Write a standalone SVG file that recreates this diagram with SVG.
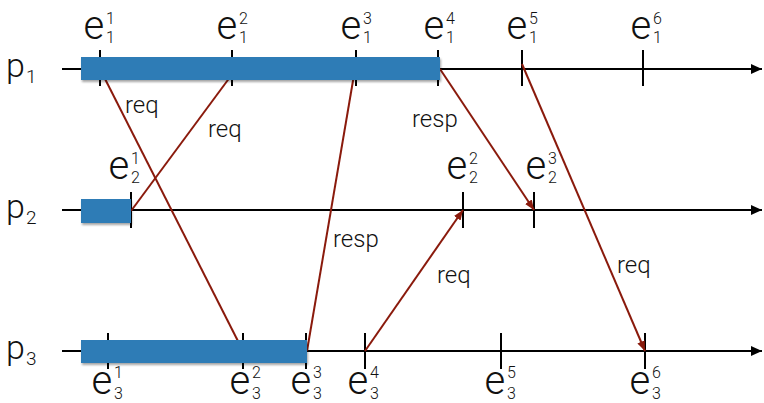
<svg xmlns="http://www.w3.org/2000/svg" width="764" height="403" viewBox="0 0 764 403">
<style>
.pl{stroke:#000;stroke-width:2;fill:none}
.tk{stroke:#000;stroke-width:2}
.msg{stroke:#8a1a0c;stroke-width:2;fill:none}
.bar{fill:#2e7cb6;filter:url(#sh)}
text{font-family:Roboto,"Liberation Sans",Arial,sans-serif;font-weight:300;fill:#111}
.e{font-size:40px}
.s{font-size:16px}
.p{font-size:34px}
.ps{font-size:19px}
.lb{font-size:24px}
</style>
<defs>
<marker id="ah" markerUnits="userSpaceOnUse" markerWidth="14" markerHeight="12" refX="11" refY="5" orient="auto">
<path d="M0,0 L11,5 L0,10 Z" fill="#000"/>
</marker>
<marker id="rh" markerUnits="userSpaceOnUse" markerWidth="12" markerHeight="10" refX="10" refY="4" orient="auto">
<path d="M0,0 L10,4 L0,8 Z" fill="#8a1a0c"/>
</marker>
<filter id="sh" x="-5%" y="-30%" width="110%" height="170%">
<feDropShadow dx="1" dy="2" stdDeviation="1.2" flood-color="#000" flood-opacity="0.35"/>
</filter>
</defs>

<g id="p1">
<line class="pl" x1="62" y1="69" x2="762" y2="69" marker-end="url(#ah)"/>
<g class="tk">
<line x1="100" y1="50" x2="100" y2="86"/>
<line x1="232" y1="50" x2="232" y2="86"/>
<line x1="356" y1="50" x2="356" y2="86"/>
<line x1="438" y1="50" x2="438" y2="86"/>
<line x1="522" y1="50" x2="522" y2="86"/>
<line x1="643" y1="50" x2="643" y2="86"/>
</g>
<text class="p" x="6" y="77">p</text><text class="ps" x="26" y="83">1</text>
</g>

<g id="p2">
<line class="pl" x1="62" y1="210" x2="762" y2="210" marker-end="url(#ah)"/>
<g class="tk">
<line x1="131" y1="192" x2="131" y2="228"/>
<line x1="463" y1="192" x2="463" y2="228"/>
<line x1="534" y1="192" x2="534" y2="228"/>
</g>
<text class="p" x="6" y="218">p</text><text class="ps" x="26" y="224">2</text>
</g>

<g id="p3">
<line class="pl" x1="62" y1="351" x2="762" y2="351" marker-end="url(#ah)"/>
<g class="tk">
<line x1="108" y1="333" x2="108" y2="369"/>
<line x1="243" y1="333" x2="243" y2="369"/>
<line x1="306" y1="333" x2="306" y2="369"/>
<line x1="365" y1="333" x2="365" y2="369"/>
<line x1="501" y1="333" x2="501" y2="369"/>
<line x1="645" y1="333" x2="645" y2="369"/>
</g>
<text class="p" x="6" y="359">p</text><text class="ps" x="26" y="365">3</text>
</g>

<g id="connectors">
<line class="msg" x1="100" y1="69" x2="243" y2="351"/>
<line class="msg" x1="131" y1="211" x2="236" y2="69"/>
<line class="msg" x1="307" y1="351" x2="355" y2="69"/>
<line class="msg" x1="440" y1="69" x2="534" y2="210" marker-end="url(#rh)"/>
<line class="msg" x1="365" y1="351" x2="463" y2="210" marker-end="url(#rh)"/>
<line class="msg" x1="522" y1="64" x2="645" y2="351" marker-end="url(#rh)"/>
<text class="lb" x="125" y="113">req</text>
<text class="lb" x="208" y="137">req</text>
<text class="lb" x="333" y="247">resp</text>
<text class="lb" x="412" y="127">resp</text>
<text class="lb" x="437" y="283">req</text>
<text class="lb" x="617" y="273">req</text>
</g>

<g id="busy1"><rect class="bar" x="81" y="57" width="359" height="23"/></g>
<g id="busy2"><rect class="bar" x="81" y="199" width="50" height="24"/></g>
<g id="busy3"><rect class="bar" x="81" y="340" width="226" height="23"/></g>

<g id="events-p1">
<text class="e" x="83.5" y="38.5">e</text><text class="s" x="106" y="24">1</text><text class="s" x="106" y="43">1</text>
<text class="e" x="216.5" y="38.5">e</text><text class="s" x="239" y="24">2</text><text class="s" x="239" y="43">1</text>
<text class="e" x="340.5" y="38.5">e</text><text class="s" x="363" y="24">3</text><text class="s" x="363" y="43">1</text>
<text class="e" x="423.5" y="38.5">e</text><text class="s" x="446" y="24">4</text><text class="s" x="446" y="43">1</text>
<text class="e" x="506.5" y="38.5">e</text><text class="s" x="529" y="24">5</text><text class="s" x="529" y="43">1</text>
<text class="e" x="630.5" y="38.5">e</text><text class="s" x="653" y="24">6</text><text class="s" x="653" y="43">1</text>
</g>
<g id="events-p2">
<text class="e" x="108.5" y="179">e</text><text class="s" x="131" y="164">1</text><text class="s" x="131" y="183">2</text>
<text class="e" x="446.5" y="179">e</text><text class="s" x="469" y="164">2</text><text class="s" x="469" y="183">2</text>
<text class="e" x="525.5" y="179">e</text><text class="s" x="548" y="164">3</text><text class="s" x="548" y="183">2</text>
</g>
<g id="events-p3">
<text class="e" x="91.5" y="394">e</text><text class="s" x="114" y="378">1</text><text class="s" x="114" y="399">3</text>
<text class="e" x="229.5" y="394">e</text><text class="s" x="252" y="378">2</text><text class="s" x="252" y="399">3</text>
<text class="e" x="290.5" y="394">e</text><text class="s" x="313" y="378">3</text><text class="s" x="313" y="399">3</text>
<text class="e" x="347.5" y="394">e</text><text class="s" x="370" y="378">4</text><text class="s" x="370" y="399">3</text>
<text class="e" x="484.5" y="394">e</text><text class="s" x="507" y="378">5</text><text class="s" x="507" y="399">3</text>
<text class="e" x="629.5" y="394">e</text><text class="s" x="652" y="378">6</text><text class="s" x="652" y="399">3</text>
</g>
</svg>
